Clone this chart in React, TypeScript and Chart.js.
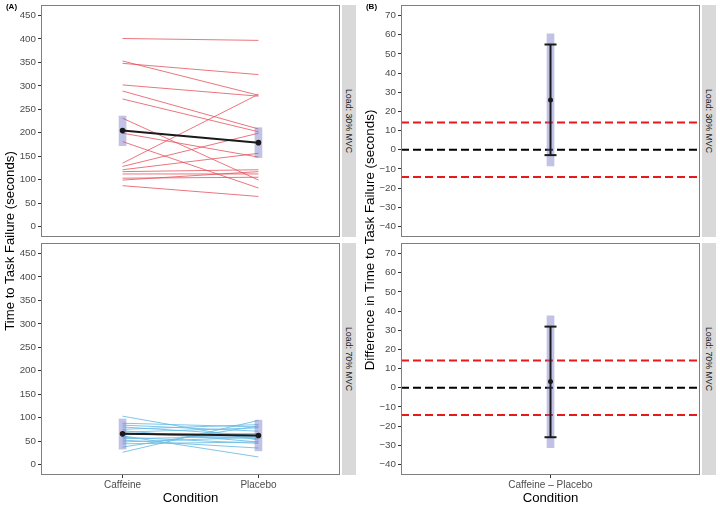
import React, { useEffect, useRef } from 'react';
import { Chart, registerables } from 'chart.js';
Chart.register(...registerables);

// ---------- data ----------
const conditions = ['Caffeine', 'Placebo'];
const diffCategory = ['Caffeine – Placebo'];
const loadLabels = ['Load: 30% MVC', 'Load: 70% MVC'];

const load30Caffeine = [401, 353, 348, 302, 289, 272, 231, 199, 181, 135, 128, 121, 117, 112, 103, 99, 87];
const load30Placebo = [397, 280, 324, 278, 208, 202, 99, 148, 82, 282, 199, 156, 121, 112, 105, 117, 64];
const load70Caffeine = [103, 88, 84, 80, 75, 72, 69, 66, 64, 61, 58, 55, 52, 48, 44, 37, 26];
const load70Placebo = [52, 80, 71, 62, 85, 48, 78, 55, 66, 16, 45, 60, 35, 58, 48, 82, 94];

const load30Mean = [204.5, 178.8];
const load30Band = [[172.4, 235.6], [146.9, 210.7]];
const load70Mean = [65.3, 61.8];
const load70Band = [[32.6, 97.0], [29.0, 94.5]];

const diff30Mean = 25.9;
const diff30CI = [-2.8, 54.9];
const diff30Band = [-8.4, 60.4];
const diff70Mean = 3.2;
const diff70CI = [-25.8, 31.9];
const diff70Band = [-31.3, 37.5];

const zeroLine = 0;
const equivBounds = [-14.2, 14.2];

const yTicksA = [0, 50, 100, 150, 200, 250, 300, 350, 400, 450];
const yTicksB = [-40, -30, -20, -10, 0, 10, 20, 30, 40, 50, 60, 70];
const yRangeA = [-22.5, 472.5];
const yRangeB = [-45.5, 75.5];
const xRangeA = [0.4, 2.6];
const xRangeB = [0.4, 1.6];

// ---------- styles ----------
const FONT = "'Liberation Sans', Arial, Helvetica, sans-serif";
const BAND = 'rgba(120,120,200,0.45)';
const RED_LINE = 'rgba(228,80,90,0.78)';
const BLUE_LINE = 'rgba(105,188,228,0.85)';
const DARK = '#1a1a1a';
const DASH_RED = '#e41a1c';

const fmt = (v: number) => (v < 0 ? '\u2212' + Math.abs(v) : String(v));

const frame = {
  id: 'frame',
  afterDatasetsDraw(chart: any) {
    const { ctx, chartArea: a } = chart;
    ctx.save();
    ctx.strokeStyle = '#7f7f7f';
    ctx.lineWidth = 1;
    ctx.strokeRect(a.left + 0.5, a.top + 0.5, a.right - a.left - 1, a.bottom - a.top - 1);
    ctx.restore();
  },
};

function yScale(ticks: number[], range: number[]) {
  return {
    type: 'linear',
    min: range[0],
    max: range[1],
    afterBuildTicks: (s: any) => {
      s.ticks = ticks.map((v) => ({ value: v }));
    },
    afterFit: (s: any) => {
      s.width = 41;
      s.paddingTop = 0;
      s.paddingBottom = 0;
    },
    ticks: {
      font: { size: 9.8, family: FONT },
      color: '#4d4d4d',
      padding: 2,
      callback: (v: any) => fmt(Number(v)),
    },
    grid: { display: true, drawOnChartArea: false, drawTicks: true, tickLength: 3, color: '#333333', offset: false },
    border: { display: false },
  };
}

function xScale(range: number[], labels: string[], show: boolean) {
  const vals = labels.map((_, i) => i + 1);
  return {
    type: 'linear',
    min: range[0],
    max: range[1],
    offset: false,
    display: show,
    afterBuildTicks: (s: any) => {
      s.ticks = vals.map((v) => ({ value: v }));
    },
    afterFit: (s: any) => {
      s.height = show ? 34 : 0;
      s.paddingLeft = 0;
      s.paddingRight = 0;
    },
    ticks: {
      font: { size: 10, family: FONT },
      color: '#4d4d4d',
      padding: 1,
      maxRotation: 0,
      autoSkip: false,
      callback: (v: any) => labels[vals.indexOf(Number(v))] ?? '',
    },
    grid: { display: true, drawOnChartArea: false, drawTicks: true, tickLength: 3, color: '#333333', offset: false },
    border: { display: false },
  };
}

function baseOptions(xs: any, ys: any, padding: any) {
  return {
    responsive: false,
    animation: false,
    events: [],
    layout: { padding, autoPadding: false },
    plugins: { legend: { display: false }, tooltip: { enabled: false }, title: { display: false } },
    scales: { x: xs, y: ys },
  };
}

function pairedConfig(caf: number[], pla: number[], mean: number[], band: number[][], color: string, showX: boolean, padding: any) {
  const participants = caf.map((c, i) => ({
    type: 'line',
    data: [
      { x: 1, y: c },
      { x: 2, y: pla[i] },
    ],
    borderColor: color,
    borderWidth: 1,
    pointRadius: 0,
    tension: 0,
    order: 2,
  }));
  return {
    type: 'line',
    data: {
      datasets: [
        {
          type: 'line',
          data: mean.map((m, i) => ({ x: i + 1, y: m })),
          borderColor: DARK,
          borderWidth: 2,
          pointRadius: 2.8,
          pointBackgroundColor: DARK,
          pointBorderColor: DARK,
          pointBorderWidth: 0,
          tension: 0,
          order: 0,
        },
        {
          type: 'bar',
          data: band.map((b, i) => ({ x: i + 1, y: b })),
          backgroundColor: BAND,
          borderWidth: 0,
          barThickness: 7,
          order: 1,
        },
        ...participants,
      ],
    },
    options: baseOptions(xScale(xRangeA, conditions, showX), yScale(yTicksA, yRangeA), padding),
    plugins: [frame],
  };
}

function diffConfig(mean: number, ci: number[], band: number[], showX: boolean, padding: any) {
  const hline = (v: number, color: string) => ({
    type: 'line',
    data: [
      { x: xRangeB[0], y: v },
      { x: xRangeB[1], y: v },
    ],
    borderColor: color,
    borderWidth: 2,
    borderDash: [8, 4],
    pointRadius: 0,
    order: 3,
  });
  return {
    type: 'line',
    data: {
      datasets: [
        {
          type: 'line',
          data: [{ x: 1, y: mean }],
          showLine: false,
          pointRadius: 2.5,
          pointBackgroundColor: DARK,
          pointBorderWidth: 0,
          order: 0,
        },
        {
          type: 'line',
          data: [
            { x: 1, y: ci[0] },
            { x: 1, y: ci[1] },
          ],
          borderColor: DARK,
          borderWidth: 2,
          pointStyle: 'line',
          pointRadius: 6,
          pointBorderWidth: 2,
          pointBorderColor: DARK,
          order: 1,
        },
        {
          type: 'bar',
          data: [{ x: 1, y: band }],
          backgroundColor: BAND,
          borderWidth: 0,
          barThickness: 7,
          order: 2,
        },
        hline(zeroLine, '#000000'),
        hline(equivBounds[0], DASH_RED),
        hline(equivBounds[1], DASH_RED),
      ],
    },
    options: baseOptions(xScale(xRangeB, diffCategory, showX), yScale(yTicksB, yRangeB), padding),
    plugins: [frame],
  };
}

function Panel({ left, top, width, height, make }: any) {
  const ref = useRef<HTMLCanvasElement>(null);
  useEffect(() => {
    const chart = new Chart(ref.current as HTMLCanvasElement, make() as any);
    return () => chart.destroy();
  }, []);
  return <canvas ref={ref} width={width} height={height} style={{ position: 'absolute', left, top, width, height }} />;
}

const textBase: React.CSSProperties = {
  position: 'absolute',
  whiteSpace: 'nowrap',
  fontFamily: FONT,
  lineHeight: 1,
};

function Rot({ x, y, deg, size, color, children, weight }: any) {
  return (
    <div
      style={{
        ...textBase,
        left: x,
        top: y,
        fontSize: size,
        color,
        fontWeight: weight || 'normal',
        transform: `translate(-50%, -50%) rotate(${deg}deg)`,
      }}
    >
      {children}
    </div>
  );
}

function Strip({ x, y, h, label }: any) {
  return (
    <>
      <div style={{ position: 'absolute', left: x, top: y, width: 14, height: h, background: '#d9d9d9' }} />
      <Rot x={x + 7} y={y + h / 2} deg={90} size={8.8} color="#1a1a1a">
        {label}
      </Rot>
    </>
  );
}

export default function App() {
  const topPad = { top: 5, right: 1, bottom: 1, left: 0 };
  const botPad = { top: 1, right: 1, bottom: 0, left: 0 };
  return (
    <div style={{ position: 'absolute', left: 0, top: 0, width: 720, height: 509, overflow: 'hidden', background: '#ffffff' }}>
      <Panel left={0} top={0} width={341} height={238} make={() => pairedConfig(load30Caffeine, load30Placebo, load30Mean, load30Band, RED_LINE, false, topPad)} />
      <Panel left={0} top={242} width={341} height={267} make={() => pairedConfig(load70Caffeine, load70Placebo, load70Mean, load70Band, BLUE_LINE, true, botPad)} />
      <Panel left={360} top={0} width={341} height={238} make={() => diffConfig(diff30Mean, diff30CI, diff30Band, false, topPad)} />
      <Panel left={360} top={242} width={341} height={267} make={() => diffConfig(diff70Mean, diff70CI, diff70Band, true, botPad)} />

      <Strip x={342} y={5} h={232} label={loadLabels[0]} />
      <Strip x={342} y={243} h={232} label={loadLabels[1]} />
      <Strip x={702} y={5} h={232} label={loadLabels[0]} />
      <Strip x={702} y={243} h={232} label={loadLabels[1]} />

      <Rot x={10} y={241} deg={-90} size={13.2} color="#000">Time to Task Failure (seconds)</Rot>
      <Rot x={370} y={240} deg={-90} size={13.4} color="#000">Difference in Time to Task Failure (seconds)</Rot>
      <Rot x={190.5} y={497.5} deg={0} size={13.2} color="#000">Condition</Rot>
      <Rot x={550.5} y={497.5} deg={0} size={13.2} color="#000">Condition</Rot>

      <Rot x={11.5} y={7} deg={0} size={8} color="#000" weight="bold">(A)</Rot>
      <Rot x={371.5} y={7} deg={0} size={8} color="#000" weight="bold">(B)</Rot>
    </div>
  );
}
